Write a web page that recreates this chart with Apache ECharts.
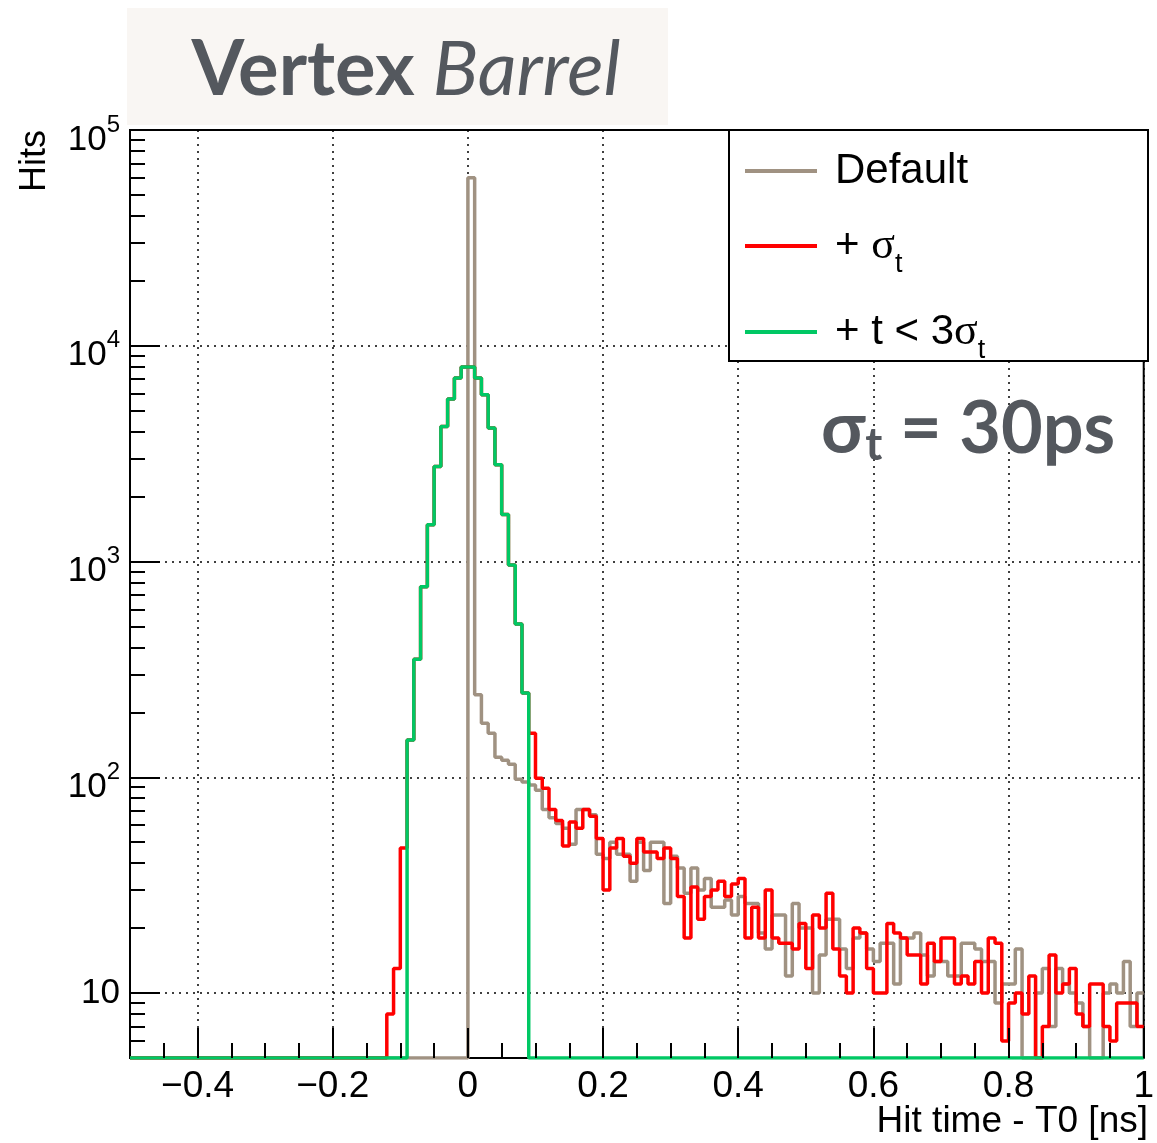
<!DOCTYPE html>
<html>
<head>
<meta charset="utf-8">
<title>Vertex Barrel - hit time</title>
<script src="https://cdn.jsdelivr.net/npm/echarts@6/dist/echarts.min.js"></script>
<style>
  html, body { margin: 0; padding: 0; background: #fff; }
  #chart { width: 1157px; height: 1143px; }
</style>
</head>
<body>
<div id="chart"></div>
<script>
// histogram binning, ns
const binStart = -0.5
const binWidth = 0.01
const nBins = 150
const yMin = 5
const yMax = 100000

// hits per 10 ps bin, each list begins at its start time
const defaultStart = 0.0
const defaultCounts = [
  60000, 241, 178, 160, 124, 120, 115, 98, 95, 92,
  87, 71, 65, 61, 58, 49, 71, 71, 67, 44,
  42, 50, 44, 44, 33, 50, 37, 50, 50, 26,
  43, 38, 29, 38, 30, 34, 25, 25, 27, 23,
  28, 26, 26, 19, 16, 23, 23, 12, 26, 20,
  20, 10, 15, 22, 22, 16, 13, 18, 19, 16,
  14, 17, 17, 11, 18, 18, 19, 15, 12, 14,
  14, 12, 12, 17, 17, 16, 14, 14, 9, 11,
  11, 16, 3, 3, 10, 13, 7, 13, 11, 10,
  9, 7, 3, 3, 10, 11, 10, 14, 7, 10
]

const sigmaStart = -0.12
const sigmaCounts = [
  8, 13, 47,
  149, 352, 764, 1480, 2760, 4230, 5670, 7080, 7970,
  7970, 7080, 5930, 4160, 2810, 1650, 964, 514, 246,
  160,
  99, 89, 71, 63, 48, 62, 58, 71, 66, 52,
  30, 47, 52, 43, 40, 52, 45, 45, 42, 47,
  42, 28, 18, 31, 22, 28, 30, 33, 28, 32,
  34, 18, 25, 18, 30, 18, 17, 17, 16, 21,
  13, 23, 20, 29, 16, 12, 10, 20, 19, 13,
  10, 10, 21, 19, 18, 15, 15, 11, 17, 14,
  18, 18, 11, 12, 11, 14, 10, 18, 17, 6,
  9, 10, 8, 12, 3, 7, 15, 10, 11, 13,
  8, 7, 11, 11, 7, 6, 9, 9, 9, 7
]

const cutStart = -0.09
const cutCounts = [
  149, 352, 764, 1480, 2760, 4230, 5670, 7080, 7970,
  7970, 7080, 5930, 4160, 2810, 1650, 964, 514, 246
]

const seriesNames = ['Default', '+ \u03c3t', '+ t < 3\u03c3t']
const seriesColors = ['#a09282', '#ff0000', '#00c864']

const xTicks = [-0.4, -0.2, 0, 0.2, 0.4, 0.6, 0.8, 1]
const xMinorTicks = [-0.45, -0.35, -0.3, -0.25, -0.15, -0.1, -0.05, 0.05, 0.1, 0.15,
  0.25, 0.3, 0.35, 0.45, 0.5, 0.55, 0.65, 0.7, 0.75, 0.85, 0.9, 0.95]
const yTicks = [10, 100, 1000, 10000, 100000]

// turn a partial count list into step points over the full range
function histPoints(start, counts) {
  const pts = []
  let v = yMin
  for (let i = 0; i < nBins; i++) {
    const t = Math.round((binStart + i * binWidth) * 100) / 100
    const j = Math.round((t - start) / binWidth)
    const c = j >= 0 && j < counts.length ? counts[j] : 0
    v = Math.max(c, yMin)
    pts.push([t, v])
  }
  pts.push([binStart + nBins * binWidth, v])
  return pts
}

const yMinorTicks = []
for (let d = 1; d <= 10000; d *= 10) {
  for (let k = 2; k <= 9; k++) {
    if (k * d >= yMin) yMinorTicks.push(k * d)
  }
}

const font = 'Liberation Sans'
const grid = { left: 130, top: 130, width: 1018, height: 928 }
const noLine = { show: false, onZero: false }
const frameLine = { show: true, onZero: false, lineStyle: { color: '#000', width: 2 } }
const dotted = { show: true, lineStyle: { color: '#000', width: 1.5, type: [2, 5] } }

// extra x axis that only carries tick marks, drawn above the plot area
function xTickAxis(values, length) {
  return {
    type: 'value',
    min: -0.5,
    max: 1,
    position: 'bottom',
    z: 5,
    axisLine: noLine,
    axisTick: { show: true, customValues: values, inside: true, length: length, lineStyle: { color: '#000', width: 2 } },
    axisLabel: { show: false },
    splitLine: { show: false }
  }
}

const chart = echarts.init(document.getElementById('chart'), null, { renderer: 'canvas' })

const option = {
  animation: false,
  backgroundColor: '#fff',
  grid: Object.assign({ show: true, borderColor: '#000', borderWidth: 2, backgroundColor: 'transparent' }, grid),
  xAxis: [
    {
      type: 'value',
      min: -0.5,
      max: 1,
      position: 'bottom',
      axisLine: noLine,
      axisTick: { show: true, customValues: xTicks, inside: true, length: 30, lineStyle: { color: '#000', width: 2 } },
      axisLabel: {
        customValues: xTicks,
        margin: 10,
        fontFamily: font,
        fontSize: 37,
        color: '#000',
        formatter: v => {
          const r = Math.round(v * 10) / 10
          if (r === 0) return '0'
          return (r < 0 ? '\u2212' : '') + String(Math.abs(r))
        }
      },
      splitLine: dotted
    },
    xTickAxis(xTicks, 30),
    xTickAxis(xMinorTicks, 15)
  ],
  yAxis: [
    {
      type: 'log',
      logBase: 10,
      min: yMin,
      max: yMax,
      position: 'left',
      axisLine: frameLine,
      axisTick: { show: true, customValues: yTicks, inside: true, length: 30, lineStyle: { color: '#000', width: 2 } },
      axisLabel: {
        customValues: yTicks,
        margin: 10,
        color: '#000',
        fontFamily: font,
        formatter: v => {
          const e = Math.round(Math.log10(v))
          if (e === 1) return '{p|10}'
          return '{b|10}{s|' + e + '}'
        },
        rich: {
          p: { fontFamily: font, fontSize: 35, lineHeight: 40, color: '#000' },
          b: { fontFamily: font, fontSize: 35, lineHeight: 40, padding: [20, 0, 0, 0], color: '#000' },
          s: { fontFamily: font, fontSize: 24, lineHeight: 24, padding: [13, 0, 23, 0], color: '#000' }
        }
      },
      splitLine: dotted
    },
    {
      type: 'log',
      logBase: 10,
      min: yMin,
      max: yMax,
      position: 'left',
      axisLine: frameLine,
      axisTick: { show: true, customValues: yMinorTicks, inside: true, length: 15, lineStyle: { color: '#000', width: 2 } },
      axisLabel: { show: false },
      splitLine: { show: false }
    }
  ],
  legend: {
    data: seriesNames,
    orient: 'vertical',
    left: 745,
    top: 150,
    padding: 0,
    itemGap: 32,
    itemWidth: 72,
    itemHeight: 4,
    icon: 'rect',
    selectedMode: false,
    z: 20,
    formatter: name => {
      if (name === seriesNames[0]) return '{f|Default}'
      if (name === seriesNames[1]) return '{f|+ }{g|\u03c3}{t|t}'
      return '{f|+ t < 3}{g|\u03c3}{t|t}'
    },
    textStyle: {
      fontFamily: font,
      fontSize: 42,
      color: '#000',
      rich: {
        f: { fontFamily: font, fontSize: 42, lineHeight: 44, padding: [0, 0, 0, 13], color: '#000' },
        g: { fontFamily: 'Liberation Serif', fontSize: 44, lineHeight: 44, color: '#000' },
        t: { fontFamily: font, fontSize: 27, lineHeight: 26, verticalAlign: 'bottom', padding: [0, 0, -10, 0], color: '#000' }
      }
    }
  },
  graphic: [
    {
      type: 'rect',
      z: 10,
      shape: { x: 729, y: 130, width: 419, height: 231 },
      style: { fill: '#fff', stroke: '#000', lineWidth: 2 }
    },
    {
      type: 'rect',
      z: 10,
      shape: { x: 127, y: 8, width: 541, height: 117 },
      style: { fill: '#f9f6f3' }
    },
    {
      type: 'text',
      z: 11,
      x: 406,
      y: 70,
      style: {
        text: '{b|Vertex}{i| Barrel}',
        align: 'center',
        verticalAlign: 'middle',
        rich: {
          b: { fontFamily: 'Lato', fontWeight: 'bold', fontSize: 76, fill: '#54585e' },
          i: { fontFamily: 'Lato', fontStyle: 'italic', fontSize: 76, fill: '#54585e' }
        }
      }
    },
    {
      type: 'text',
      z: 11,
      x: 821,
      y: 430,
      style: {
        text: '{m|\u03c3}{s|t}{m| = 30ps}',
        align: 'left',
        verticalAlign: 'middle',
        rich: {
          m: { fontFamily: 'Lato, "Open Sans"', fontWeight: 'bold', fontSize: 72, lineHeight: 76, fill: '#54585e' },
          s: { fontFamily: 'Lato, "Open Sans"', fontWeight: 'bold', fontSize: 46, lineHeight: 44, verticalAlign: 'bottom', fill: '#54585e' }
        }
      }
    },
    {
      type: 'text',
      x: 35,
      y: 161,
      rotation: Math.PI / 2,
      style: { text: 'Hits', fontFamily: font, fontSize: 36, fill: '#000', align: 'center', verticalAlign: 'middle' }
    },
    {
      type: 'text',
      x: 1148,
      y: 1122,
      style: { text: 'Hit time - T0 [ns]', fontFamily: font, fontSize: 37, fill: '#000', align: 'right', verticalAlign: 'middle' }
    }
  ],
  series: [
    { data: histPoints(defaultStart, defaultCounts) },
    { data: histPoints(sigmaStart, sigmaCounts) },
    { data: histPoints(cutStart, cutCounts) }
  ].map((s, i) => Object.assign({
    name: seriesNames[i],
    type: 'line',
    step: 'end',
    symbol: 'none',
    showSymbol: false,
    clip: true,
    z: 2 + i,
    color: seriesColors[i],
    itemStyle: { color: seriesColors[i] },
    lineStyle: { color: seriesColors[i], width: 3.5 }
  }, s))
}

chart.setOption(option)
</script>
</body>
</html>
